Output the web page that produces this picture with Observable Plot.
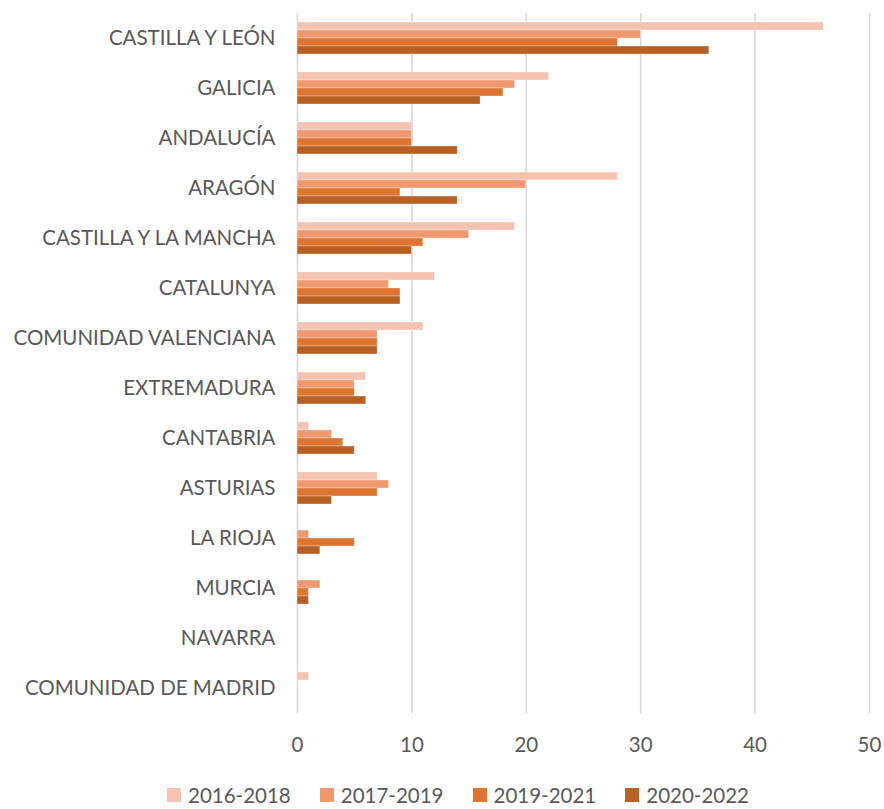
<!DOCTYPE html>
<html>
<head>
<meta charset="utf-8">
<script src="https://cdn.jsdelivr.net/npm/d3@7"></script>
<script src="https://cdn.jsdelivr.net/npm/@observablehq/plot@0.6"></script>
<style>
  body { margin: 0; background: #fff; font-family: Lato, "Open Sans", sans-serif; }
  #chart { width: 884px; }
  .legend { display: flex; justify-content: center; gap: 29px; margin-top: 23px; padding-left: 32px; font-size: 20.5px; color: #595959; line-height: 24px; }
  .legend span.item { display: flex; align-items: center; gap: 7px; }
  .legend i { display: inline-block; width: 14px; height: 14px; }
</style>
</head>
<body>
<div id="chart"></div>
<script>
const regions = ["CASTILLA Y LEÓN", "GALICIA", "ANDALUCÍA", "ARAGÓN", "CASTILLA Y LA MANCHA", "CATALUNYA", "COMUNIDAD VALENCIANA", "EXTREMADURA", "CANTABRIA", "ASTURIAS", "LA RIOJA", "MURCIA", "NAVARRA", "COMUNIDAD DE MADRID"];
const series = ["2016-2018", "2017-2019", "2019-2021", "2020-2022"];
const v2016_2018 = [46, 22, 10, 28, 19, 12, 11, 6, 1, 7, 0, 0, 0, 1];
const v2017_2019 = [30, 19, 10, 20, 15, 8, 7, 5, 3, 8, 1, 2, 0, 0];
const v2019_2021 = [28, 18, 10, 9, 11, 9, 7, 5, 4, 7, 5, 1, 0, 0];
const v2020_2022 = [36, 16, 14, 14, 10, 9, 7, 6, 5, 3, 2, 1, 0, 0];
const colors = ["#F5C3B1", "#F0996F", "#DF7430", "#B96024"];
const xTicks = [0, 10, 20, 30, 40, 50];

const valuesBySeries = [v2016_2018, v2017_2019, v2019_2021, v2020_2022];
const data = [];
regions.forEach((r, i) => series.forEach((s, j) => data.push({region: r, series: s, value: valuesBySeries[j][i]})));

const chart = Plot.plot({
  width: 884,
  height: 760,
  marginTop: 11,
  marginBottom: 45,
  marginLeft: 297,
  marginRight: 15,
  style: {fontFamily: "Lato, 'Open Sans', sans-serif", fontSize: "20.5px", color: "#595959", background: "#fff"},
  x: {domain: [0, 50], ticks: xTicks, grid: true, tickSize: 0, tickPadding: 24, label: null, axis: "bottom"},
  y: {domain: series, axis: null, paddingInner: 0, paddingOuter: 0.96},
  fy: {domain: regions, padding: 0, label: null, axis: "left", tickSize: 0, tickPadding: 22},
  color: {domain: series, range: colors},
  marks: [
    Plot.ruleX(xTicks, {stroke: "#d9d9d9", strokeWidth: 1.6, strokeOpacity: 1}),
    Plot.barX(data, {x: "value", y: "series", fy: "region", fill: "series", stroke: "white", strokeWidth: 0.6, strokeOpacity: 0.5})
  ]
});
document.getElementById("chart").appendChild(chart);

const legend = document.createElement("div");
legend.className = "legend";
series.forEach((s, j) => {
  const item = document.createElement("span");
  item.className = "item";
  const sw = document.createElement("i");
  sw.style.background = colors[j];
  item.appendChild(sw);
  item.appendChild(document.createTextNode(s));
  legend.appendChild(item);
});
document.getElementById("chart").appendChild(legend);
</script>
</body>
</html>
